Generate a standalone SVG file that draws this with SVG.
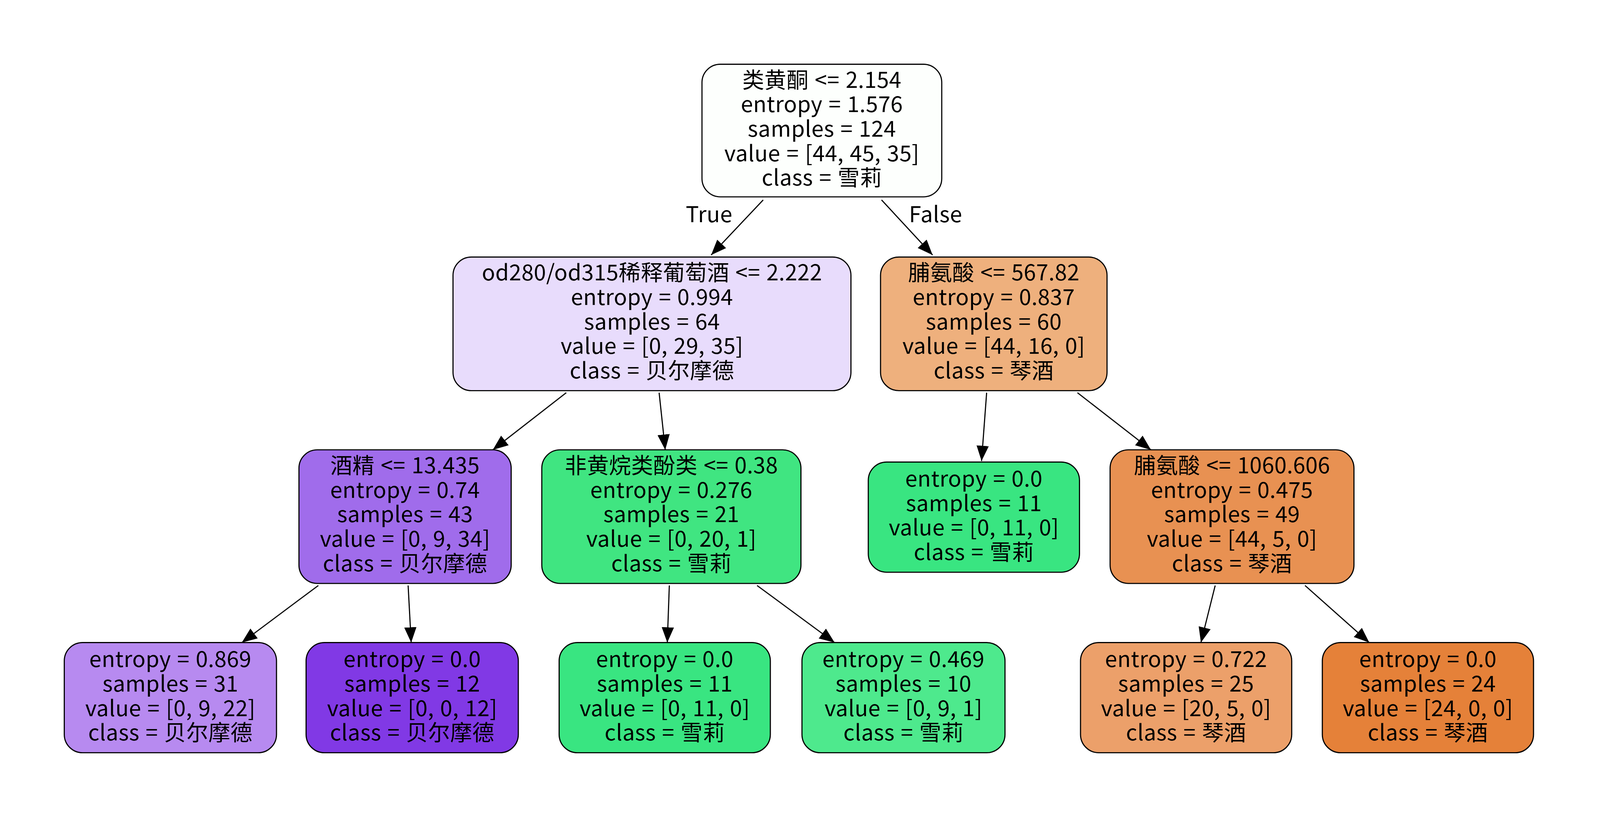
<svg xmlns="http://www.w3.org/2000/svg" width="4113" height="2105" viewBox="0 0 4113 2105">
<style>
.n{stroke:#000;stroke-width:1.1}
text{font-family:"Noto Sans CJK SC","Microsoft YaHei",sans-serif;font-size:21.5px;letter-spacing:0.2px;word-spacing:1px;text-anchor:middle;fill:#000}
.e{stroke:#000;stroke-width:1.1;fill:none;marker-end:url(#a)}
</style>
<defs><marker id="a" markerUnits="userSpaceOnUse" markerWidth="16" markerHeight="13" refX="15" refY="6" orient="auto"><path d="M0,0 L15,6 L0,12 z" fill="#000"/></marker></defs>
<rect width="4113" height="2105" fill="#fff"/>
<g transform="scale(2.612)">
<g id="edges">
<path class="e" d="M748,196 L697,250"/>
<path class="e" d="M864,196 L914,250"/>
<text x="695" y="218">True</text>
<text x="917" y="218">False</text>
<path class="e" d="M555,385 L483,441"/>
<path class="e" d="M646,385 L652,441"/>
<path class="e" d="M967,385 L962,452"/>
<path class="e" d="M1056,385 L1128,441"/>
<path class="e" d="M312,574 L237,630"/>
<path class="e" d="M400,574 L403,630"/>
<path class="e" d="M656,574 L654,630"/>
<path class="e" d="M742,574 L818,630"/>
<path class="e" d="M1191,574 L1177,630"/>
<path class="e" d="M1279,574 L1342,630"/>
</g>
<g id="root"><rect class="n" x="688" y="63" width="235" height="130" rx="18" fill="#fdfffd"/>
<text x="805.5" y="86">类黄酮 &lt;= 2.154</text><text x="805.5" y="110">entropy = 1.576</text><text x="805.5" y="134">samples = 124</text><text x="805.5" y="158">value = [44, 45, 35]</text><text x="805.5" y="182">class = 雪莉</text></g>
<g id="n1"><rect class="n" x="444" y="252" width="390" height="131" rx="18" fill="#e8dcfc"/>
<text x="639" y="275">od280/od315稀释葡萄酒 &lt;= 2.222</text><text x="639" y="299">entropy = 0.994</text><text x="639" y="323">samples = 64</text><text x="639" y="347">value = [0, 29, 35]</text><text x="639" y="371">class = 贝尔摩德</text></g>
<g id="n2"><rect class="n" x="863" y="252" width="222" height="131" rx="18" fill="#eeb07d"/>
<text x="974" y="275">脯氨酸 &lt;= 567.82</text><text x="974" y="299">entropy = 0.837</text><text x="974" y="323">samples = 60</text><text x="974" y="347">value = [44, 16, 0]</text><text x="974" y="371">class = 琴酒</text></g>
<g id="n3"><rect class="n" x="293" y="441" width="208" height="131" rx="18" fill="#a06ceb"/>
<text x="397" y="464">酒精 &lt;= 13.435</text><text x="397" y="488">entropy = 0.74</text><text x="397" y="512">samples = 43</text><text x="397" y="536">value = [0, 9, 34]</text><text x="397" y="560">class = 贝尔摩德</text></g>
<g id="n4"><rect class="n" x="531" y="441" width="254" height="131" rx="18" fill="#40e581"/>
<text x="658" y="464">非黄烷类酚类 &lt;= 0.38</text><text x="658" y="488">entropy = 0.276</text><text x="658" y="512">samples = 21</text><text x="658" y="536">value = [0, 20, 1]</text><text x="658" y="560">class = 雪莉</text></g>
<g id="n5"><rect class="n" x="851" y="453" width="207" height="108" rx="18" fill="#39e581"/>
<text x="954.5" y="477">entropy = 0.0</text><text x="954.5" y="501">samples = 11</text><text x="954.5" y="525">value = [0, 11, 0]</text><text x="954.5" y="549">class = 雪莉</text></g>
<g id="n6"><rect class="n" x="1088" y="441" width="239" height="131" rx="18" fill="#e89152"/>
<text x="1207.5" y="464">脯氨酸 &lt;= 1060.606</text><text x="1207.5" y="488">entropy = 0.475</text><text x="1207.5" y="512">samples = 49</text><text x="1207.5" y="536">value = [44, 5, 0]</text><text x="1207.5" y="560">class = 琴酒</text></g>
<g id="l1"><rect class="n" x="63" y="630" width="208" height="108" rx="18" fill="#b78af0"/>
<text x="167" y="654">entropy = 0.869</text><text x="167" y="678">samples = 31</text><text x="167" y="702">value = [0, 9, 22]</text><text x="167" y="726">class = 贝尔摩德</text></g>
<g id="l2"><rect class="n" x="300" y="630" width="208" height="108" rx="18" fill="#8139e5"/>
<text x="404" y="654">entropy = 0.0</text><text x="404" y="678">samples = 12</text><text x="404" y="702">value = [0, 0, 12]</text><text x="404" y="726">class = 贝尔摩德</text></g>
<g id="l3"><rect class="n" x="548" y="630" width="207" height="108" rx="18" fill="#39e581"/>
<text x="651.5" y="654">entropy = 0.0</text><text x="651.5" y="678">samples = 11</text><text x="651.5" y="702">value = [0, 11, 0]</text><text x="651.5" y="726">class = 雪莉</text></g>
<g id="l4"><rect class="n" x="786" y="630" width="199" height="108" rx="18" fill="#4ee98d"/>
<text x="885.5" y="654">entropy = 0.469</text><text x="885.5" y="678">samples = 10</text><text x="885.5" y="702">value = [0, 9, 1]</text><text x="885.5" y="726">class = 雪莉</text></g>
<g id="l5"><rect class="n" x="1059" y="630" width="207" height="108" rx="18" fill="#eca06a"/>
<text x="1162.5" y="654">entropy = 0.722</text><text x="1162.5" y="678">samples = 25</text><text x="1162.5" y="702">value = [20, 5, 0]</text><text x="1162.5" y="726">class = 琴酒</text></g>
<g id="l6"><rect class="n" x="1296" y="630" width="207" height="108" rx="18" fill="#e58139"/>
<text x="1399.5" y="654">entropy = 0.0</text><text x="1399.5" y="678">samples = 24</text><text x="1399.5" y="702">value = [24, 0, 0]</text><text x="1399.5" y="726">class = 琴酒</text></g>
</g>
</svg>
